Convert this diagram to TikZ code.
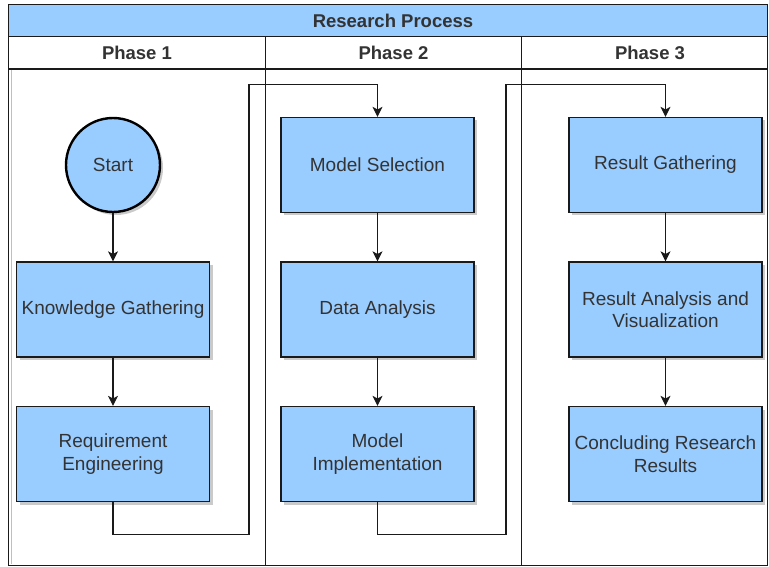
\documentclass[tikz,border=0pt]{standalone}
\usepackage{fontspec}
\setmainfont{Liberation Sans}
\usetikzlibrary{shadows,arrows.meta}
\definecolor{boxblue}{HTML}{99CCFF}
\definecolor{linegray}{HTML}{1A1A1A}
\definecolor{textgray}{HTML}{333333}
\begin{document}
\begin{tikzpicture}[x=1pt,y=-1pt,
  stepbox/.style={draw=linegray, line width=1.2pt, fill=boxblue,
    minimum width=193pt, minimum height=95pt, align=center,
    font=\fontsize{19}{22.5}\selectfont, text=textgray,
    drop shadow={shadow xshift=3pt, shadow yshift=-3pt, opacity=0.35, fill=black!60}},
  startnode/.style={circle, draw=black, line width=2.4pt, fill=boxblue,
    minimum size=94pt, inner sep=0pt, font=\fontsize{19}{22.5}\selectfont, text=textgray,
    drop shadow={shadow xshift=3pt, shadow yshift=-3pt, opacity=0.35, fill=black!60}},
  flow/.style={draw=linegray, line width=1.2pt, -{Stealth[length=10pt,width=10pt,inset=2.5pt]}},
  frame/.style={draw=linegray, line width=1.2pt},
  headtext/.style={font=\bfseries\fontsize{18.5}{22}\selectfont, text=textgray}
]
\useasboundingbox (0,0) rectangle (769,567);

% pool frame, title bar and lane headers
\fill[boxblue] (8.5,4.5) rectangle (767.5,36.5);
\draw[frame] (8.5,4.5) rectangle (767.5,565.5);
\draw[frame] (8.5,36.5) -- (767.5,36.5);
\draw[frame] (8.5,69) -- (767.5,69);
\draw[frame] (265.5,36.5) -- (265.5,565.5);
\draw[frame] (521.5,36.5) -- (521.5,565.5);
\draw[black!25, line width=1pt] (11,70) -- (11,564);

\node[headtext] (title) at (393,21) {Research Process};
\node[headtext] (ph1) at (137,53) {Phase 1};
\node[headtext] (ph2) at (393.5,53) {Phase 2};
\node[headtext] (ph3) at (650,53) {Phase 3};

% phase 1
\node[startnode] (start) at (113,165) {Start};
\node[stepbox] (kg) at (113,309.5) {Knowledge Gathering};
\node[stepbox] (re) at (113,454) {Requirement\\Engineering};

% phase 2
\node[stepbox] (ms) at (377.5,165) {Model Selection};
\node[stepbox] (da) at (377.5,309.5) {Data Analysis};
\node[stepbox] (mi) at (377.5,454) {Model\\Implementation};

% phase 3
\node[stepbox] (rg) at (665.5,165) {Result Gathering};
\node[stepbox] (ra) at (665.5,309.5) {Result Analysis and\\Visualization};
\node[stepbox] (cr) at (665.5,454) {Concluding Research\\Results};

% connectors
\draw[flow] (start) -- (kg);
\draw[flow] (kg) -- (re);
\draw[flow] (re.south) -- ++(0,32) -| (249,84.5) -| (ms.north);
\draw[flow] (ms) -- (da);
\draw[flow] (da) -- (mi);
\draw[flow] (mi.south) -- ++(0,32) -| (506,84.5) -| (rg.north);
\draw[flow] (rg) -- (ra);
\draw[flow] (ra) -- (cr);
\end{tikzpicture}
\end{document}
